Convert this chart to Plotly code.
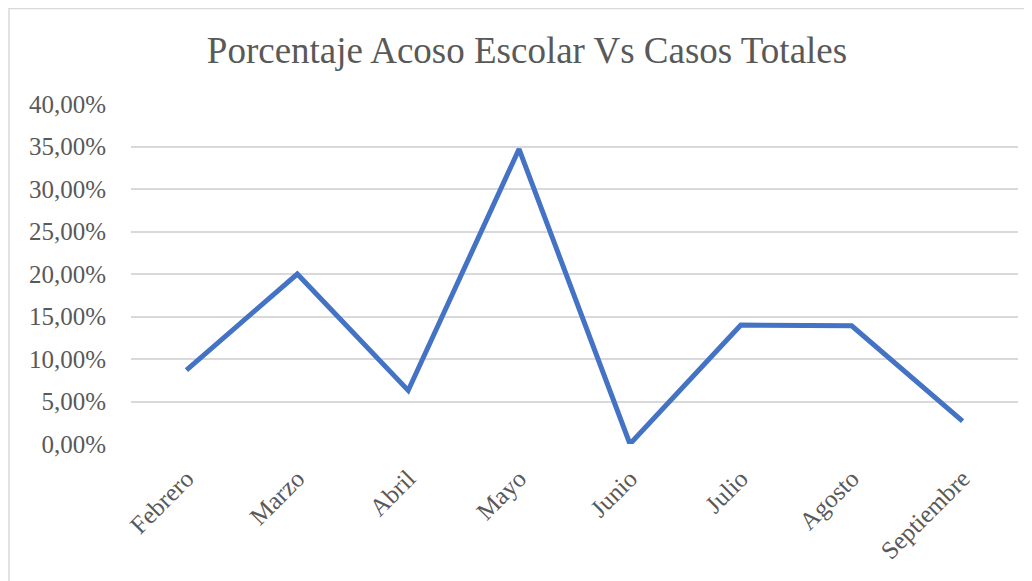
import plotly.graph_objects as go

# data
meses = ["Febrero", "Marzo", "Abril", "Mayo", "Junio", "Julio", "Agosto", "Septiembre"]
porcentaje = [0.087, 0.200, 0.063, 0.347, 0.0, 0.140, 0.139, 0.027]
y_ticks = [0, 0.05, 0.10, 0.15, 0.20, 0.25, 0.30, 0.35, 0.40]

# the page has an 8px body margin, so the figure is shifted by 8px
OFF = 8
W, H = 1032 - OFF, 581 - OFF
L, R, T, B = 131 - OFF, 14, 104 - OFF, 137
pw, ph = W - L - R, H - T - B

fig = go.Figure()
fig.add_trace(go.Scatter(x=meses, y=porcentaje, mode="lines",
                         line=dict(color="#4472C4", width=5), hoverinfo="x+y"))

# light outer chart border like the Excel chart frame
fig.add_shape(type="rect", xref="paper", yref="paper",
              x0=(9 - OFF - L) / pw, x1=(1030 - OFF - L) / pw,
              y0=(T + ph - 600) / ph, y1=(T + ph - 0.5) / ph,
              line=dict(color="#D9D9D9", width=1.5), layer="below")

font = "Liberation Serif, Times New Roman, serif"
fig.update_layout(
    width=W, height=H,
    margin=dict(l=L, r=R, t=T, b=B),
    paper_bgcolor="white", plot_bgcolor="white",
    separators=",.",
    showlegend=False,
    font=dict(family=font, color="#595959", size=25),
    title=dict(text="Porcentaje Acoso Escolar Vs Casos Totales",
               x=(527 - OFF) / W, xanchor="center", y=1 - (50 - OFF) / H, yanchor="middle",
               font=dict(family=font, size=37, color="#595959")),
)
fig.update_xaxes(type="category", range=[-0.5, len(meses) - 0.5],
                 showgrid=False, zeroline=False, showline=False,
                 tickangle=-45, ticks="", ticklabelstandoff=14,
                 tickfont=dict(size=25, color="#595959"))
fig.update_yaxes(range=[0, 0.4], tickvals=y_ticks, tickformat=".2%",
                 showgrid=True, gridcolor="#D9D9D9", gridwidth=1.5,
                 zeroline=False, showline=False, ticks="",
                 ticklabelstandoff=24,
                 tickfont=dict(size=25, color="#595959"))

fig.write_html("out.html")
